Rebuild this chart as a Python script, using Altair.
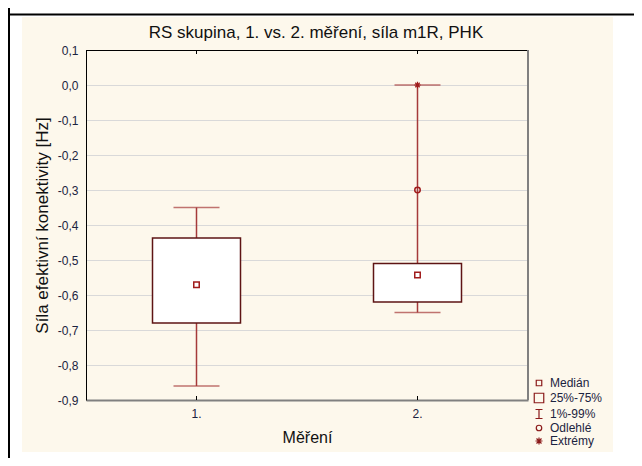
import altair as alt
import pandas as pd

# ---------------- data ----------------
categories = ["1.", "2."]
q1 = [-0.680, -0.620]            # 25 %
q3 = [-0.437, -0.510]            # 75 %
medians = [-0.571, -0.543]
whisker_low = [-0.860, -0.650]   # 1 %
whisker_high = [-0.350, 0.000]   # 99 %
outlier_cat = ["2."]
outlier_val = [-0.300]
extreme_cat = ["2."]
extreme_val = [0.000]
y_ticks = [0.1, 0.0, -0.1, -0.2, -0.3, -0.4, -0.5, -0.6, -0.7, -0.8, -0.9]
legend_labels = ["Medián", "25%-75%", "\u00a01%-99%", "Odlehlé", "Extrémy"]

title_text = "RS skupina, 1. vs. 2. měření, síla m1R, PHK"
x_title = "Měření"
y_title = "Síla efektivní konektivity [Hz]"

# ---------------- style ----------------
FONT = "Liberation Sans"
BEIGE = "#FDF8EC"
BOX = "#5E1414"
WHISK = "#A53A3A"
MARK = "#A01C1C"
LABEL = "#1B2340"
W, H = 442, 350

box_df = pd.DataFrame({"cat": categories, "q1": q1, "q3": q3, "med": medians,
                       "lo": whisker_low, "hi": whisker_high})
out_df = pd.DataFrame({"cat": outlier_cat, "val": outlier_val})
ext_df = pd.DataFrame({"cat": extreme_cat, "val": extreme_val})
leg_df = pd.DataFrame({"label": legend_labels})
title_df = pd.DataFrame({"t": [title_text]})
one = pd.DataFrame({"d": [0]})

x_axis = alt.Axis(title=x_title, labelAngle=0, ticks=False, grid=False,
                  domainColor="#808080", domainWidth=2, labelPadding=8,
                  labelFontSize=12, labelColor=LABEL, labelFont=FONT,
                  titleFontSize=16, titleFont=FONT, titleFontWeight="normal",
                  titleColor="#111111", titleY=37, titleBaseline="middle")
y_axis = alt.Axis(title=y_title, values=y_ticks, ticks=False, grid=True,
                  gridColor="#D9D9D9", gridWidth=1,
                  domainColor="#000000", domainWidth=1, labelPadding=8,
                  labelExpr="replace(replace(format(datum.value, '.1f'), '.', ','), '\u2212', '-')",
                  labelFontSize=12, labelColor=LABEL, labelFont=FONT,
                  titleFontSize=17, titleFont=FONT, titleFontWeight="normal",
                  titleColor="#111111", titleX=-44, titleY=175,
                  titleBaseline="middle", titleAlign="center")
x_scale = alt.Scale(domain=categories, paddingInner=0, paddingOuter=0)
y_scale = alt.Scale(domain=[-0.9, 0.1], nice=False, zero=False)


def X():
    return alt.X("cat:N", scale=x_scale, axis=x_axis)


def Y(field):
    return alt.Y(f"{field}:Q", scale=y_scale, axis=y_axis)


# ---------------- decoration (page frame) ----------------
deco = alt.Chart(one)
strips = [
    deco.mark_rect(color="white").encode(x=alt.value(-78), x2=alt.value(-64), y=alt.value(-42), y2=alt.value(408)),
    deco.mark_rect(color="white").encode(x=alt.value(-78), x2=alt.value(548), y=alt.value(-42), y2=alt.value(-33)),
    deco.mark_rect(color="white").encode(x=alt.value(527), x2=alt.value(548), y=alt.value(-42), y2=alt.value(408)),
    deco.mark_rect(color="white").encode(x=alt.value(-78), x2=alt.value(548), y=alt.value(402), y2=alt.value(408)),
    deco.mark_rule(color="black", strokeWidth=2).encode(x=alt.value(-78), x2=alt.value(548), y=alt.value(-35.5)),
    deco.mark_rule(color="black", strokeWidth=2).encode(x=alt.value(-77), y=alt.value(-42), y2=alt.value(408)),
    deco.mark_rule(color="black", strokeWidth=1).encode(x=alt.value(0), x2=alt.value(W), y=alt.value(0.5)),
    deco.mark_rule(color="#808080", strokeWidth=2).encode(x=alt.value(W), y=alt.value(0), y2=alt.value(H)),
]

title = alt.Chart(title_df).mark_text(fontSize=17, font=FONT, color="#111111", align="center",
                                      baseline="middle").encode(
    text="t:N", x=alt.value(230), y=alt.value(-17))

base = alt.Chart(box_df)
whisker = base.mark_rule(color=WHISK, strokeWidth=1.5).encode(x=X(), y=Y("lo"), y2="hi:Q")
cap_lo = base.mark_tick(color=WHISK, thickness=1.5, size=46).encode(x=X(), y=Y("lo"))
cap_hi = base.mark_tick(color=WHISK, thickness=1.5, size=46).encode(x=X(), y=Y("hi"))
box = base.mark_bar(size=88, fill="white", stroke=BOX, strokeWidth=1.5).encode(x=X(), y=Y("q1"), y2="q3:Q")
med = base.mark_point(shape="square", size=30, filled=False, color=MARK, strokeWidth=1.5,
                      opacity=1).encode(x=X(), y=Y("med"))
outl = alt.Chart(out_df).mark_point(shape="circle", size=30, filled=False, color=MARK,
                                    strokeWidth=1.5, opacity=1).encode(x=X(), y=Y("val"))
ASTER = "M-1,0H1M0,-1V1M-0.7,-0.7L0.7,0.7M-0.7,0.7L0.7,-0.7"
extr = alt.Chart(ext_df).mark_point(shape=ASTER, size=40, filled=False, color=MARK,
                                    strokeWidth=1.2, opacity=1).encode(x=X(), y=Y("val"))
xt_bot = base.mark_rule(color="black", strokeWidth=1).encode(x=X(), y=alt.value(346), y2=alt.value(350))
xt_top = base.mark_rule(color="black", strokeWidth=1).encode(x=X(), y=alt.value(0), y2=alt.value(4))

legend_shapes = [
    "M-0.55,-0.55H0.55V0.55H-0.55Z",
    "M-0.95,-0.95H0.95V0.95H-0.95Z",
    "M-0.7,-0.9H0.7M0,-0.9V0.9M-0.7,0.9H0.7",
    "M0.55,0A0.55,0.55,0,1,1,-0.55,0A0.55,0.55,0,1,1,0.55,0Z",
    "M-0.7,0H0.7M0,-0.7V0.7M-0.5,-0.5L0.5,0.5M-0.5,0.5L0.5,-0.5",
]
legend_layer = alt.Chart(leg_df).mark_point(opacity=0, filled=False, color=MARK).encode(
    shape=alt.Shape("label:N", scale=alt.Scale(domain=legend_labels, range=legend_shapes),
                    legend=alt.Legend(title=None, orient="none", legendX=447, legendY=327,
                                      direction="vertical", labelFontSize=12, labelFont=FONT,
                                      labelColor=LABEL, symbolSize=100,
                                      symbolStrokeColor="#8B1A1A", symbolStrokeWidth=1.2,
                                      symbolFillColor="transparent", symbolOpacity=1,
                                      labelOffset=5, rowPadding=1, padding=0))
)

chart = alt.layer(
    *strips, title, whisker, cap_lo, cap_hi, box, med, outl, extr, xt_bot, xt_top, legend_layer
).properties(
    width=W, height=H,
    autosize=alt.AutoSizeParams(type="none"),
    padding={"left": 78, "top": 42, "right": 106, "bottom": 58},
).configure(background=BEIGE).configure_view(fill="white", stroke="transparent")

chart.save("out.html", embed_options={"renderer": "svg", "actions": False})
